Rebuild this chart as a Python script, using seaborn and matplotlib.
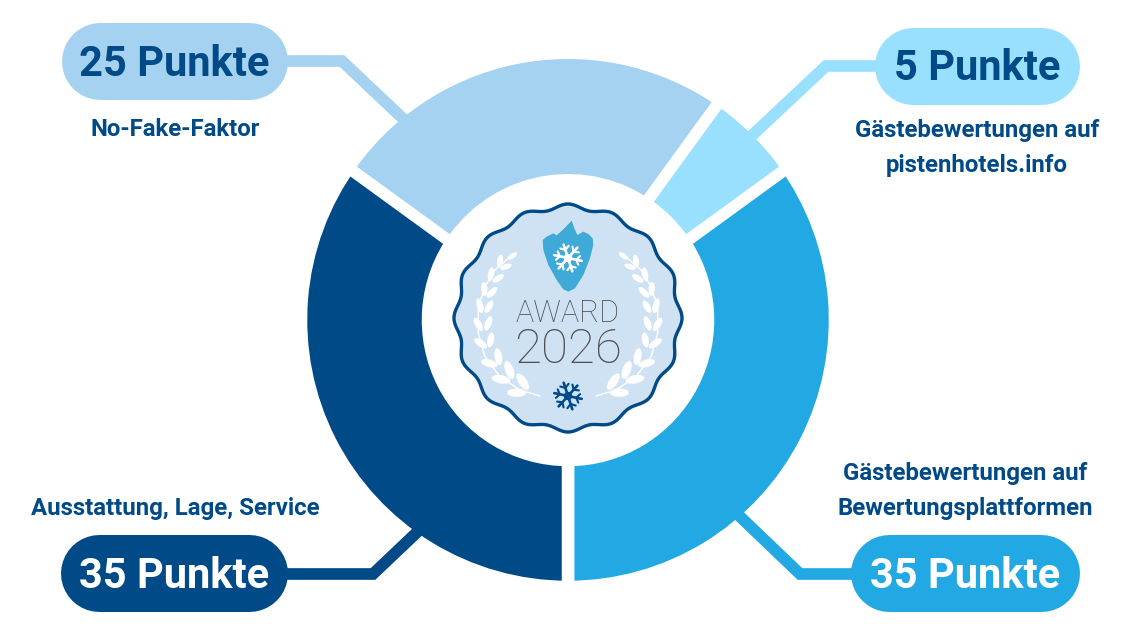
import numpy as np
import matplotlib
matplotlib.use('Agg')
import matplotlib.pyplot as plt
import seaborn as sns
from matplotlib.patches import Ellipse, Polygon, Wedge

# Werte der Punkteverteilung (gegen den Uhrzeigersinn, ab 6 Uhr)
categories = ['Gästebewertungen auf\nBewertungsplattformen', 'Gästebewertungen auf\npistenhotels.info',
              'No-Fake-Faktor', 'Ausstattung, Lage, Service']
points = [35, 5, 25, 35]
colors = ['#22A9E3', '#99E0FF', '#A5D2F1', '#004A87']

NAVY = '#004A87'

sns.set_theme(style='white')
plt.rcParams['font.family'] = ['Roboto', 'DejaVu Sans']

fig = plt.figure(figsize=(11.36, 6.4), dpi=100, facecolor='white')
ax = fig.add_axes([0, 0, 1, 1])

# Ring: y-Achse ist invertiert, daher counterclock=False
wedges, _ = ax.pie(points, colors=colors, center=(568, 320), radius=267, startangle=90, counterclock=False,
                   wedgeprops={'width': 127, 'edgecolor': 'white', 'linewidth': 9, 'zorder': 2})

# Die oberen Segmente liegen ohne Einzug obenauf, ihr weisser Rand schneidet die Nachbarn frei
for i, z in ((2, 2.2), (1, 2.5)):
    t1, t2 = wedges[i].theta1, wedges[i].theta2
    ax.add_patch(Wedge((568, 320), 261, t1, t2, width=115, fc='white', ec='white', lw=17, zorder=z))
    ax.add_patch(Wedge((568, 320), 261, t1, t2, width=115, fc=colors[i], ec='none', zorder=z + 0.1))

ax.set_xlim(0, 1136)
ax.set_ylim(640, 0)
ax.set_aspect('equal')
ax.axis('off')

# Verbindungslinien, enden im Ring
connectors = [
    ([860, 800, 730], [574, 574, 507], colors[0]),
    ([885, 826, 745], [66, 66, 142], colors[1]),
    ([280, 342, 415], [61, 61, 130], colors[2]),
    ([280, 373, 432], [574, 574, 518], colors[3]),
]
for xs, ys, c in connectors:
    ax.plot(xs, ys, color=c, lw=8.4, solid_joinstyle='miter', solid_capstyle='butt', zorder=3)

# Punkte-Pillen, als dicke Linie mit runden Enden
pills = [
    (850.5, 1079, 573, colors[0], '35 Punkte', 'white'),
    (874.5, 1079.5, 66, colors[1], '5 Punkte', NAVY),
    (61.5, 287.5, 61, colors[2], '25 Punkte', NAVY),
    (60.5, 287.5, 573, colors[3], '35 Punkte', 'white'),
]
for x0, x1, y, c, label, tc in pills:
    ax.plot([x0 + 38.5, x1 - 38.5], [y, y], color=c, lw=77 * 0.72, solid_capstyle='round', zorder=3)
    ax.text((x0 + x1) / 2, y - 1.5, label, color=tc, fontsize=30, fontweight='bold',
            ha='center', va='center_baseline', zorder=4)

# Beschriftungen
label_pos = [(965, 491), (977, 148), (175, 130), (175, 509)]
for (x, y), name in zip(label_pos, categories):
    ax.text(x, y, name, color=NAVY, fontsize=17.3, fontweight='bold', ha='center', va='center',
            linespacing=1.65, zorder=4)

# Plakette in der Mitte
theta = np.linspace(0, 2 * np.pi, 720)
bx, by = 568, 318
rad = 111.5 + 2.5 * np.cos(16 * theta)
ax.add_patch(Polygon(np.c_[bx + rad * np.cos(theta), by + rad * np.sin(theta)], closed=True,
                     fc='#CFE2F4', ec=NAVY, lw=2.4, zorder=5))

# Schild
shield = np.array([(368, 150), (380, 140), (400, 130), (410, 136), (430, 118), (455, 92), (463, 115), (472, 135),
                   (490, 125), (505, 132), (518, 145), (520, 165), (510, 205), (490, 255), (465, 295), (445, 305),
                   (430, 298), (410, 270), (385, 225), (370, 180)]) / 3 + (420, 190)
ax.add_patch(Polygon(shield, closed=True, fc='#3FA9D8', ec='none', zorder=6))


def snowflake(cx, cy, r, c, lw):
    for a in np.deg2rad(np.arange(0, 360, 60) + 12):
        ux, uy = np.cos(a), np.sin(a)
        ax.plot([cx, cx + r * ux], [cy, cy + r * uy], color=c, lw=lw, solid_capstyle='round', zorder=7)
        for s in (-1, 1):
            b = a + s * np.deg2rad(55)
            mx, my = cx + 0.6 * r * ux, cy + 0.6 * r * uy
            ax.plot([mx, mx + 0.38 * r * np.cos(b)], [my, my + 0.38 * r * np.sin(b)],
                    color=c, lw=lw * 0.8, solid_capstyle='round', zorder=7)
    ax.add_patch(Ellipse((cx, cy), r * 0.6, r * 0.6, fc=c, ec='none', zorder=7))


snowflake(568, 258, 14, 'white', 1.9)
snowflake(568, 396, 14, NAVY, 1.9)

stem = np.array([(360, 618), (300, 600), (240, 560), (195, 500), (175, 430), (175, 350),
                 (195, 290), (225, 240), (265, 205)]) / 3 + (420, 190)
leaves = [(290, 608, 0, 19), (243, 568, 10, 19), (208, 520, 15, 17), (182, 460, 35, 15), (175, 403, 60, 15),
          (180, 347, 75, 15), (193, 297, 85, 14), (213, 253, 100, 14), (240, 213, 100, 13), (277, 198, -35, 11),
          (308, 575, 55, 19), (268, 540, 70, 19), (235, 500, 80, 17), (212, 450, 100, 15), (205, 400, 110, 15),
          (207, 350, 120, 14), (216, 307, 135, 14), (235, 265, 145, 13), (258, 230, 160, 12)]
for sgn in (-1, 1):
    ax.plot(568 + sgn * (568 - stem[:, 0]), stem[:, 1], color='white', lw=1, zorder=6)
    for x, y, ang, length in leaves:
        px, py = x / 3 + 420, y / 3 + 190
        if sgn > 0:
            px, ang = 2 * 568 - px, -ang
        ax.add_patch(Ellipse((px, py), length, length * 0.44, angle=ang, fc='white', ec='none', zorder=6))

ax.text(568, 322, 'AWARD', color='#4F4F53', fontsize=22, fontweight='light', ha='center', va='baseline', zorder=7)
ax.text(568, 363, '2026', color='#4F4F53', fontsize=35.5, fontweight='light', ha='center', va='baseline', zorder=7)

fig.savefig('out.png', dpi=100)
